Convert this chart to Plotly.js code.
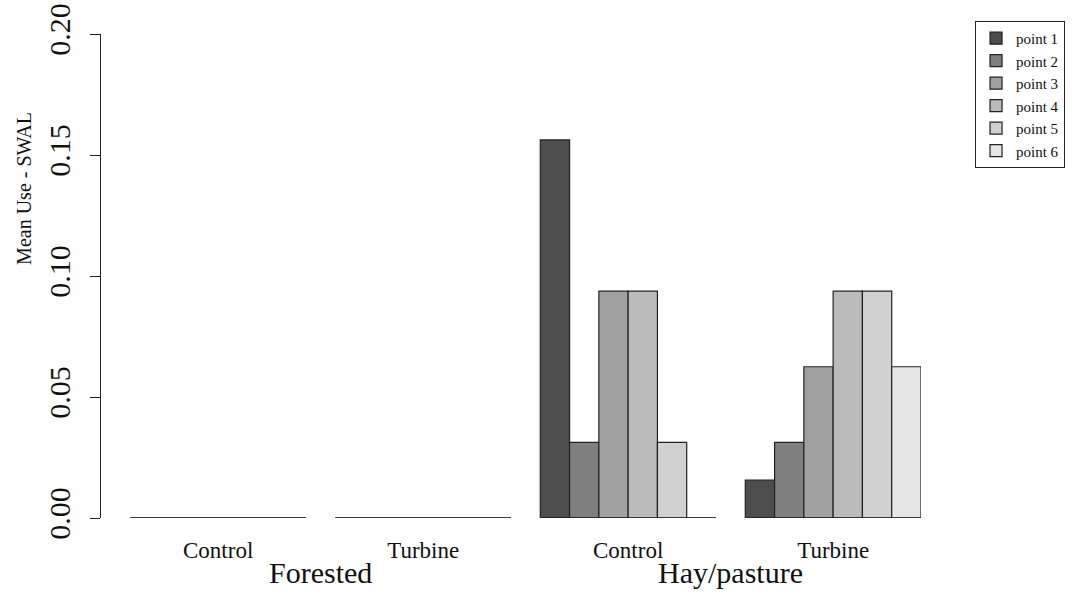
<!DOCTYPE html>
<html>
<head>
<meta charset="utf-8">
<script src="https://cdn.plot.ly/plotly-3.0.1.min.js"></script>
<style>html,body{margin:0;padding:0;background:#fff;}#chart{width:1073px;height:594px;}</style>
</head>
<body>
<div id="chart"></div>
<script>
// Data
const habitats = ["Forested", "Hay/pasture"];
const groupLabels = ["Control", "Turbine", "Control", "Turbine"];
const seriesNames = ["point 1", "point 2", "point 3", "point 4", "point 5", "point 6"];
// values per series, across the 4 groups (Forested Control, Forested Turbine, Hay Control, Hay Turbine)
const point1 = [0, 0, 0.15625, 0.015625];
const point2 = [0, 0, 0.03125, 0.03125];
const point3 = [0, 0, 0.09375, 0.0625];
const point4 = [0, 0, 0.09375, 0.09375];
const point5 = [0, 0, 0.03125, 0.09375];
const point6 = [0, 0, 0, 0.0625];
const series = [point1, point2, point3, point4, point5, point6];
const colors = ["#4D4D4D", "#7F7F7F", "#A0A0A0", "#BBBBBB", "#D1D1D1", "#E6E6E6"];
const yTicks = [0, 0.05, 0.10, 0.15, 0.20];
const yTickText = ["0.00", "0.05", "0.10", "0.15", "0.20"];

const nS = seriesNames.length;
const groupStride = nS + 1; // one bar-width space before each group
const groupStart = g => 1 + g * groupStride;
const nGroups = groupLabels.length;

const FONT = "Liberation Serif, Times New Roman, serif";
const traces = [];
// baselines (zero-height bars drawn as lines, as in R)
for (let g = 0; g < nGroups; g++) {
  traces.push({
    type: "scatter", mode: "lines",
    x: [groupStart(g), groupStart(g) + nS], y: [0, 0],
    line: {color: "#222", width: 1.3},
    showlegend: false, hoverinfo: "skip", cliponaxis: false
  });
}
series.forEach((vals, s) => {
  traces.push({
    type: "bar",
    name: seriesNames[s],
    x: vals.map((v, g) => groupStart(g) + s + 0.5),
    y: vals,
    width: 1,
    marker: {color: colors[s], line: {color: "#222", width: 1.2}},
    cliponaxis: false
  });
});

const groupCenters = groupLabels.map((_, g) => groupStart(g) + nS / 2);
const annotations = [];
habitats.forEach((h, i) => {
  const c = (groupCenters[2 * i] + groupCenters[2 * i + 1]) / 2;
  annotations.push({
    x: c, y: 0, xref: "x", yref: "y", text: h, showarrow: false,
    xanchor: "center", yanchor: "middle", yshift: -54,
    font: {family: FONT, size: 30, color: "#111"}
  });
});
annotations.push({
  x: 0, y: 0.136, xref: "paper", yref: "y", xanchor: "center", yanchor: "middle",
  xshift: -77, text: "Mean Use - SWAL",
  showarrow: false, textangle: -90, font: {family: FONT, size: 20, color: "#111"}
});

const layout = {
  width: 1073, height: 594,
  margin: {l: 101, r: 152, t: 34, b: 76, autoexpand: false},
  paper_bgcolor: "#fff", plot_bgcolor: "#fff",
  barmode: "overlay",
  showlegend: true,
  legend: {
    x: 1.0659, y: 1.027, xanchor: "left", yanchor: "top",
    bgcolor: "#fff", bordercolor: "#222", borderwidth: 1,
    font: {family: FONT, size: 15, color: "#111"},
    tracegroupgap: 0, entrywidth: 80
  },
  xaxis: {
    range: [0, nGroups * groupStride], showline: false, showgrid: false, zeroline: false,
    tickvals: groupCenters, ticktext: groupLabels, ticks: "",
    ticklabelstandoff: 16,
    tickfont: {family: FONT, size: 23, color: "#111"}
  },
  yaxis: {
    range: [0, 0.2], showline: true, linecolor: "#222", linewidth: 1,
    showgrid: false, zeroline: false,
    tickvals: yTicks, ticktext: yTickText, ticks: "outside", ticklen: 10, tickcolor: "#222",
    tickangle: -90, ticklabelstandoff: 8,
    tickfont: {family: FONT, size: 30, color: "#111"}
  },
  annotations: annotations
};

Plotly.newPlot("chart", traces, layout, {displayModeBar: false, staticPlot: true});
</script>
</body>
</html>
